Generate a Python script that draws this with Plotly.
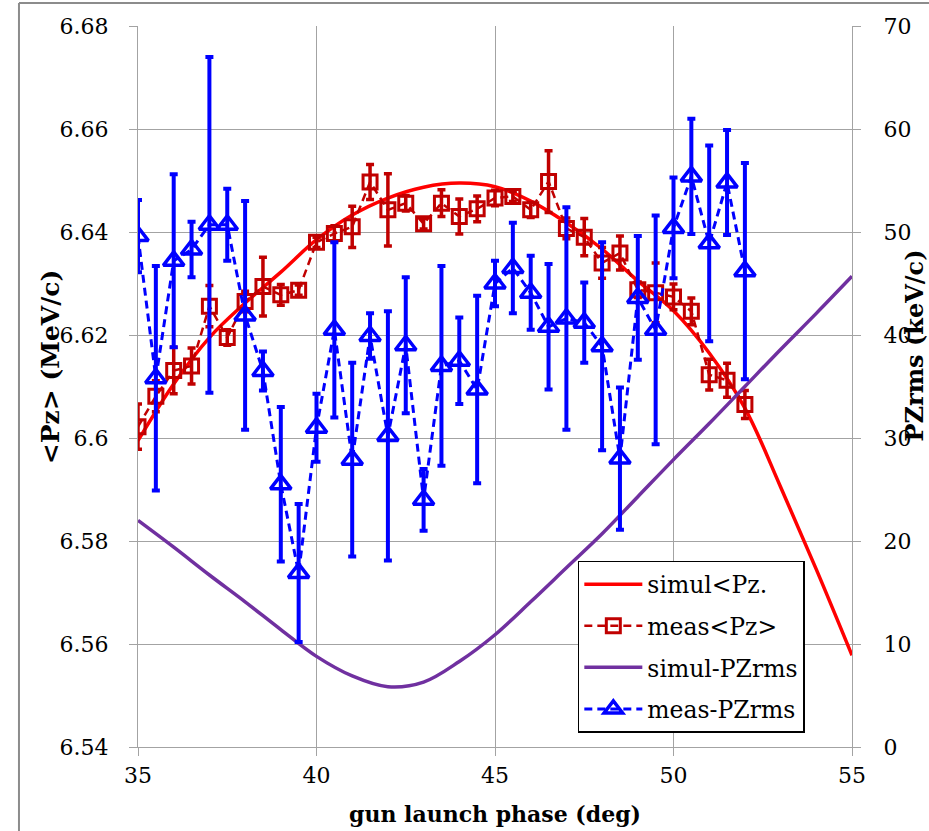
import plotly.graph_objects as go

# Measured points: gun launch phase (deg)
phase = [35.0, 35.5, 36.0, 36.5, 37.0, 37.5, 38.0, 38.5, 39.0, 39.5,
         40.0, 40.5, 41.0, 41.5, 42.0, 42.5, 43.0, 43.5, 44.0, 44.5,
         45.0, 45.5, 46.0, 46.5, 47.0, 47.5, 48.0, 48.5, 49.0, 49.5,
         50.0, 50.5, 51.0, 51.5, 52.0]

# Measured mean longitudinal momentum <Pz> (MeV/c) and its error
meas_pz = [6.6022, 6.6081, 6.6131, 6.6140, 6.6256, 6.6195, 6.6265, 6.6294, 6.6278, 6.6287,
           6.6380, 6.6397, 6.6410, 6.6497, 6.6443, 6.6456, 6.6416, 6.6456, 6.6430, 6.6445,
           6.6466, 6.6469, 6.6443, 6.6498, 6.6407, 6.6390, 6.6340, 6.6359, 6.6288, 6.6282,
           6.6274, 6.6246, 6.6123, 6.6112, 6.6065]
meas_pz_err = [0.0044, 0.0030, 0.0045, 0.0035, 0.0040, 0.0015, 0.0020, 0.0057, 0.0020, 0.0010,
               0.0010, 0.0015, 0.0040, 0.0034, 0.0070, 0.0015, 0.0010, 0.0026, 0.0034, 0.0025,
               0.0015, 0.0010, 0.0015, 0.0060, 0.0020, 0.0036, 0.0030, 0.0033, 0.0015, 0.0058,
               0.0025, 0.0026, 0.0030, 0.0033, 0.0027]

# Measured momentum spread PZrms (keV/c) and its error
meas_rms = [49.6, 35.8, 47.2, 48.3, 50.7, 50.7, 41.9, 36.5, 25.5, 16.9,
            31.0, 40.5, 27.9, 39.9, 30.2, 39.0, 24.0, 37.0, 37.5, 34.7,
            45.0, 46.5, 44.1, 40.8, 41.6, 41.2, 38.9, 28.0, 43.6, 40.5,
            50.4, 55.4, 48.9, 54.8, 46.2]
meas_rms_err = [3.5, 10.9, 8.4, 2.7, 16.3, 3.5, 11.1, 1.9, 7.5, 6.7,
                3.3, 8.5, 9.4, 2.2, 12.1, 6.6, 3.0, 9.7, 4.2, 9.1,
                2.2, 4.4, 3.6, 6.1, 10.8, 3.9, 10.1, 6.9, 6.0, 11.1,
                4.9, 5.6, 9.5, 5.1, 10.5]

# Simulation curves
sim_phase = [35, 36, 37, 38, 39, 40, 41, 42, 43, 44, 45,
             46, 47, 48, 49, 50, 51, 52, 53, 54, 55]
sim_pz = [6.5995, 6.6105, 6.6195, 6.6262, 6.6322, 6.6385, 6.6433, 6.6466, 6.6487, 6.6495, 6.6488,
          6.6460, 6.6418, 6.6367, 6.6305, 6.6247, 6.6165, 6.6058, 6.5905, 6.5745, 6.5578]
sim_rms = [22.0, 19.4, 16.7, 14.1, 11.4, 8.8, 6.9, 5.85, 6.3, 8.3, 10.9,
           14.1, 17.4, 20.7, 24.3, 27.9, 31.4, 35.0, 38.6, 42.1, 45.7]

# Axis ticks
x_ticks = [35, 40, 45, 50, 55]
x_ticktext = ["35", "40", "45", "50", "55"]
pz_ticks = [6.54, 6.56, 6.58, 6.60, 6.62, 6.64, 6.66, 6.68]
pz_ticktext = ["6.54", "6.56", "6.58", "6.6", "6.62", "6.64", "6.66", "6.68"]
rms_ticks = [0, 10, 20, 30, 40, 50, 60, 70]
rms_ticktext = ["0", "10", "20", "30", "40", "50", "60", "70"]

SERIF = "DejaVu Serif"
GRID = "#A3A3A3"

fig = go.Figure()

fig.add_trace(go.Scatter(
    x=sim_phase, y=sim_pz, name="simul<Pz.", mode="lines",
    line=dict(color="#FF0000", width=3.5, shape="spline"),
    legendgroup="a", yaxis="y"))

fig.add_trace(go.Scatter(
    x=phase, y=meas_pz, name="meas<Pz>", mode="lines+markers",
    line=dict(color="#C00000", width=2.5, dash="8px,5px"),
    marker=dict(symbol="square-open", size=14, color="#C00000",
                line=dict(color="#C00000", width=3)),
    error_y=dict(type="data", array=meas_pz_err, visible=True,
                 color="#C00000", thickness=3.5, width=4),
    legendgroup="b", yaxis="y"))

fig.add_trace(go.Scatter(
    x=sim_phase, y=sim_rms, name="simul-PZrms", mode="lines",
    line=dict(color="#7030A0", width=3.5, shape="spline"),
    legendgroup="c", yaxis="y2"))

fig.add_trace(go.Scatter(
    x=phase, y=meas_rms, name="meas-PZrms", mode="lines+markers",
    line=dict(color="#0000FF", width=3, dash="8px,5px"),
    marker=dict(symbol="triangle-up-open", size=18, color="#0000FF",
                line=dict(color="#0000FF", width=3.5)),
    error_y=dict(type="data", array=meas_rms_err, visible=True,
                 color="#0000FF", thickness=4, width=4),
    legendgroup="d", yaxis="y2"))

axis_common = dict(
    showline=True, linecolor=GRID, linewidth=1.3,
    ticks="outside", ticklen=8, tickcolor=GRID, tickwidth=1.3,
    tickfont=dict(family=SERIF, size=22, color="black"),
    zeroline=False,
)

fig.update_layout(
    width=929, height=831,
    margin=dict(l=138, r=77, t=26, b=84),
    paper_bgcolor="white", plot_bgcolor="white",
    font=dict(family=SERIF, color="black"),
    xaxis=dict(range=[35, 55], tickvals=x_ticks, ticktext=x_ticktext,
               showgrid=True, gridcolor=GRID, gridwidth=1.3,
               ticklabelstandoff=0, **axis_common),
    yaxis=dict(range=[6.54, 6.68], tickvals=pz_ticks, ticktext=pz_ticktext,
               showgrid=True, gridcolor=GRID, gridwidth=1.3,
               ticklabelstandoff=16, **axis_common),
    yaxis2=dict(range=[0, 70], tickvals=rms_ticks, ticktext=rms_ticktext,
                overlaying="y", side="right", showgrid=False,
                ticklabelstandoff=18, **axis_common),
    showlegend=True,
    legend=dict(x=0.616, y=0.258, xanchor="left", yanchor="top",
                bgcolor="white", bordercolor="black", borderwidth=1.5,
                font=dict(family=SERIF, size=23.5, color="black"),
                tracegroupgap=8, itemwidth=58),
    annotations=[
        dict(text="<b>gun launch phase (deg)</b>", xref="paper", yref="paper",
             x=0.5, y=-0.093, xanchor="center", yanchor="middle", showarrow=False,
             font=dict(family=SERIF, size=22, color="black")),
        dict(text="<b><Pz> (MeV/c)</b>", xref="paper", yref="paper",
             x=-0.123, y=0.527, xanchor="center", yanchor="middle", showarrow=False,
             textangle=-90, font=dict(family=SERIF, size=25, color="black")),
        dict(text="<b>PZrms (keV/c)</b>", xref="paper", yref="paper",
             x=1.087, y=0.557, xanchor="center", yanchor="middle", showarrow=False,
             textangle=-90, font=dict(family=SERIF, size=24, color="black")),
    ],
    shapes=[
        # outer chart frame (left and top edges)
        dict(type="line", xref="paper", yref="paper", x0=-0.1667, x1=-0.1667,
             y0=-0.2, y1=1.032, line=dict(color="#8C8C8C", width=2)),
        dict(type="line", xref="paper", yref="paper", x0=-0.1667, x1=1.2,
             y0=1.032, y1=1.032, line=dict(color="#8C8C8C", width=2)),
    ],
)

fig.write_html("out.html")
